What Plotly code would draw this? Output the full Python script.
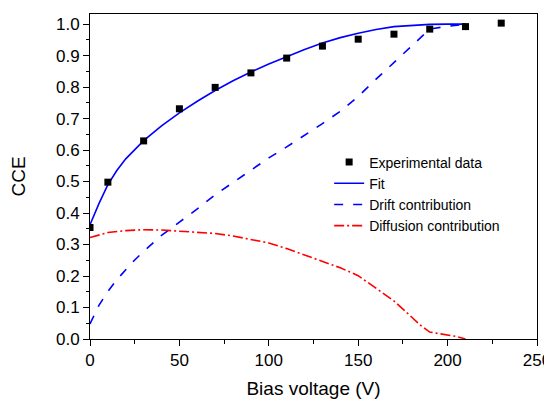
import plotly.graph_objects as go

# Experimental data
exp_v = [0, 10, 30, 50, 70, 90, 110, 130, 150, 170, 190, 210, 230]
exp_cce = [0.354, 0.498, 0.629, 0.731, 0.799, 0.845, 0.892, 0.930, 0.952, 0.968, 0.984, 0.992, 1.003]

# Fit
fit_v = [0, 5, 10, 15, 20, 30, 40, 50, 60, 70, 80, 90, 100, 110, 120, 130, 140, 150, 160, 170, 180, 190, 200, 210]
fit_cce = [0.363, 0.43, 0.49, 0.535, 0.572, 0.63, 0.677, 0.718, 0.755, 0.789, 0.82, 0.848, 0.873, 0.897,
           0.919, 0.94, 0.957, 0.971, 0.983, 0.992, 0.996, 0.999, 1.0, 1.0]

# Drift contribution
drift_v = [0, 5, 10, 15, 20, 25, 30, 40, 50, 60, 70, 80, 90, 100, 110, 120, 130, 140, 150, 160, 170, 180, 190, 200, 210]
drift_cce = [0.048, 0.107, 0.151, 0.188, 0.22, 0.251, 0.278, 0.329, 0.371, 0.413, 0.458, 0.497, 0.536, 0.575,
             0.61, 0.646, 0.684, 0.723, 0.77, 0.825, 0.877, 0.93, 0.984, 0.993, 1.0]

# Diffusion contribution
diff_v = [0, 10, 20, 30, 40, 50, 60, 70, 80, 90, 100, 110, 120, 130, 140, 150, 160, 170, 180, 185, 190, 200, 205, 210]
diff_cce = [0.322, 0.338, 0.344, 0.347, 0.346, 0.343, 0.34, 0.335, 0.327, 0.317, 0.305, 0.287, 0.267, 0.248,
            0.226, 0.201, 0.162, 0.121, 0.069, 0.043, 0.022, 0.012, 0.008, 0.0]

x_ticks = [0, 50, 100, 150, 200, 250]
y_ticks = [0.0, 0.1, 0.2, 0.3, 0.4, 0.5, 0.6, 0.7, 0.8, 0.9, 1.0]

FONT = "Arial, Liberation Sans, sans-serif"

fig = go.Figure()
fig.add_trace(go.Scatter(x=fit_v, y=fit_cce, mode="lines", name="Fit", legendrank=2,
                         line=dict(color="#0000FF", width=1.6)))
fig.add_trace(go.Scatter(x=drift_v, y=drift_cce, mode="lines", name="Drift contribution", legendrank=3,
                         line=dict(color="#0000FF", width=1.6, dash="9px,10px")))
fig.add_trace(go.Scatter(x=diff_v, y=diff_cce, mode="lines", name="Diffusion contribution", legendrank=4,
                         line=dict(color="#FF0000", width=1.6, dash="10px,3px,2px,3px")))
fig.add_trace(go.Scatter(x=exp_v, y=exp_cce, mode="markers", name="Experimental data", legendrank=1,
                         marker=dict(symbol="square", size=7, color="black")))

# page body has an 8px margin, so the figure is sized to fit the 552x399 window
fig.update_layout(
    width=544, height=391,
    margin=dict(l=82, r=15, t=6, b=60),
    paper_bgcolor="white", plot_bgcolor="white",
    font=dict(family=FONT, color="black", size=16),
    legend=dict(x=0.535, y=0.5925, xanchor="left", yanchor="top",
                bgcolor="rgba(0,0,0,0)", font=dict(size=14), tracegroupgap=0),
)
fig.update_xaxes(
    range=[0, 250], tickvals=x_ticks, ticktext=[str(v) for v in x_ticks],
    showline=True, linecolor="black", linewidth=1, mirror=True,
    ticks="outside", ticklen=6, tickcolor="black", tickwidth=1,
    minor=dict(dtick=25, ticks="outside", ticklen=3.5, tickcolor="black", tickwidth=1),
    showgrid=False, zeroline=False, automargin=False,
    tickfont=dict(size=17),
    title=dict(text="Bias voltage (V)", font=dict(size=19), standoff=17),
)
fig.update_yaxes(
    range=[0, 1.032], tickvals=y_ticks, ticktext=[f"{v:.1f}" for v in y_ticks],
    showline=True, linecolor="black", linewidth=1, mirror=True,
    ticks="outside", ticklen=6, tickcolor="black", tickwidth=1,
    minor=dict(dtick=0.05, ticks="outside", ticklen=3.5, tickcolor="black", tickwidth=1),
    showgrid=False, zeroline=False, automargin=False,
    tickfont=dict(size=17),
    title=dict(text="CCE", font=dict(size=19), standoff=25),
)

fig.write_html("out.html")
